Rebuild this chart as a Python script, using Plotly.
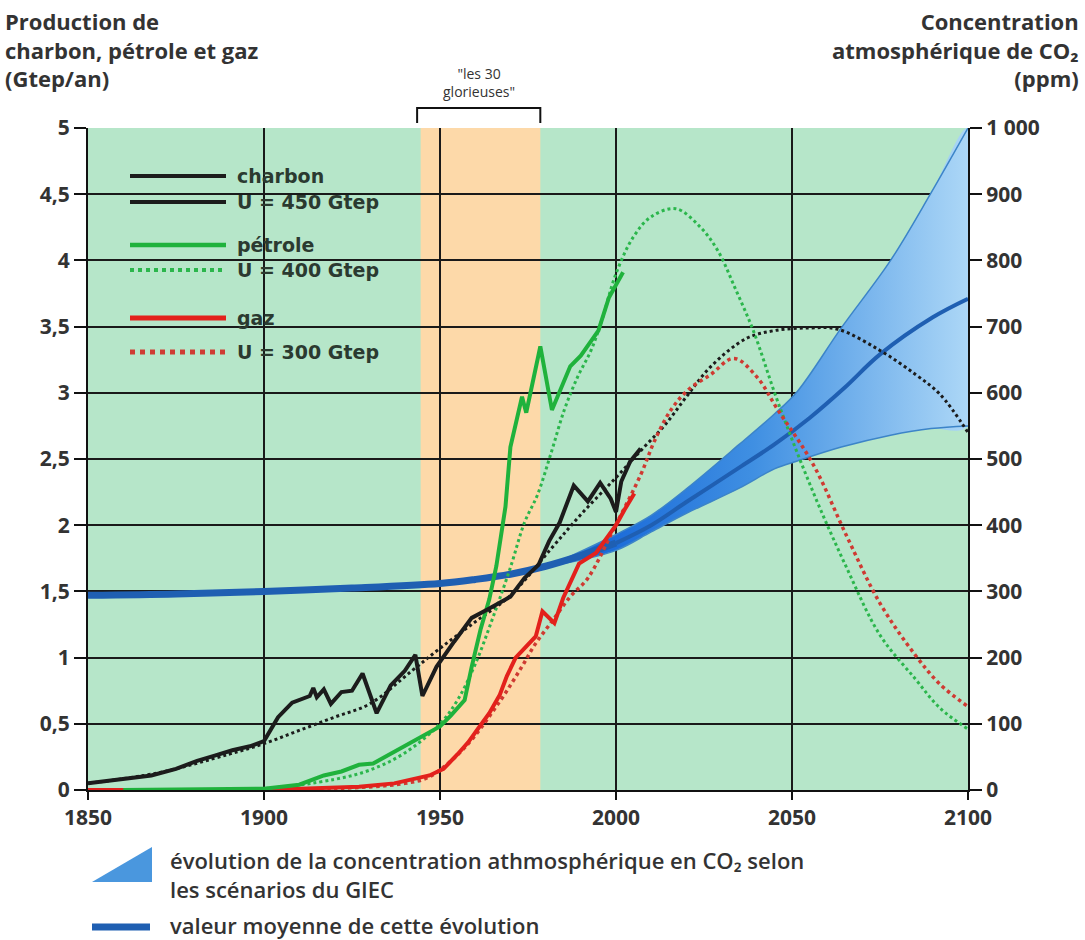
import plotly.graph_objects as go

# ---------------- data ----------------
coal_years = [1850, 1860, 1868, 1875, 1881, 1886, 1891, 1896, 1900, 1904, 1908, 1913, 1914, 1915,
              1917, 1919, 1922, 1925, 1928, 1932, 1936, 1940, 1943, 1945, 1949, 1954, 1959, 1964,
              1970, 1974, 1978, 1981, 1984, 1988, 1992, 1995.5, 1998.5, 2000, 2001.5, 2004, 2007]
coal_values = [0.05, 0.08, 0.11, 0.16, 0.22, 0.26, 0.30, 0.33, 0.37, 0.55, 0.66, 0.71, 0.77, 0.70,
               0.76, 0.65, 0.74, 0.75, 0.88, 0.58, 0.79, 0.90, 1.02, 0.71, 0.93, 1.12, 1.30, 1.37,
               1.46, 1.60, 1.70, 1.88, 2.02, 2.30, 2.18, 2.32, 2.20, 2.10, 2.33, 2.48, 2.58]

oil_years = [1860, 1880, 1900, 1910, 1917, 1922, 1927, 1931, 1935, 1938, 1942, 1946, 1950, 1953,
             1957, 1959, 1961.5, 1964, 1966, 1968.6, 1970, 1973.3, 1974.5, 1978.5, 1981.8, 1987,
             1990, 1995, 1998, 2002]
oil_values = [0.0, 0.005, 0.01, 0.04, 0.11, 0.14, 0.19, 0.20, 0.26, 0.30, 0.36, 0.42, 0.48, 0.56,
              0.68, 0.93, 1.21, 1.44, 1.69, 2.14, 2.59, 2.97, 2.85, 3.35, 2.87, 3.20, 3.28, 3.47, 3.72, 3.91]

gas_years = [1850, 1900, 1927, 1937, 1947, 1951, 1955, 1958, 1961, 1964, 1967, 1969, 1971.5,
             1975, 1977.2, 1979.1, 1982.5, 1985, 1989.5, 1994.3, 2000, 2002.5, 2005.2]
gas_values = [0.0, 0.0, 0.025, 0.05, 0.11, 0.16, 0.27, 0.36, 0.47, 0.58, 0.72, 0.86, 1.0,
              1.1, 1.16, 1.35, 1.26, 1.45, 1.71, 1.79, 2.0, 2.12, 2.24]

coal_model_years = [1850, 1870, 1890, 1900, 1910, 1920, 1930, 1942, 1950, 1960, 1970, 1981.5,
                    1990, 2000, 2008, 2014, 2020, 2027, 2037, 2045, 2055, 2063, 2075, 2085, 2092, 2100]
coal_model_values = [0.05, 0.13, 0.27, 0.35, 0.45, 0.55, 0.65, 0.90, 1.07, 1.27, 1.47, 1.82,
                     2.08, 2.36, 2.59, 2.76, 2.97, 3.20, 3.41, 3.47, 3.49, 3.48, 3.32, 3.14, 2.99, 2.70]

oil_model_years = [1880, 1900, 1920, 1930, 1940, 1950, 1955, 1960, 1965, 1970, 1974, 1977.7,
                   1981.5, 1985.3, 1989.1, 1992.9, 1996, 2000, 2005, 2010, 2017, 2024, 2029,
                   2034, 2039, 2046, 2056, 2065.5, 2075, 2085, 2092, 2100]
oil_model_values = [0.0, 0.01, 0.08, 0.15, 0.28, 0.50, 0.68, 0.95, 1.30, 1.68, 2.02, 2.23,
                    2.54, 2.87, 3.12, 3.32, 3.55, 3.90, 4.18, 4.33, 4.39, 4.25, 4.07,
                    3.78, 3.47, 2.93, 2.25, 1.68, 1.17, 0.84, 0.62, 0.46]

gas_model_years = [1900, 1920, 1940, 1947, 1957, 1967, 1973, 1977, 1982, 1987, 1992, 1999.5,
                   2007, 2011, 2015.6, 2020.4, 2027, 2033.5, 2040, 2046, 2056, 2065.5, 2075,
                   2085, 2092, 2100]
gas_model_values = [0.0, 0.01, 0.05, 0.10, 0.32, 0.67, 0.92, 1.10, 1.28, 1.46, 1.60, 1.98,
                    2.38, 2.64, 2.87, 3.02, 3.14, 3.26, 3.12, 2.87, 2.46, 1.92, 1.41,
                    1.02, 0.80, 0.63]

co2_years = [1850, 1875, 1900, 1925, 1950, 1960, 1970, 1980, 1990, 2000, 2010, 2020, 2035,
             2045, 2055, 2065, 2075, 2090, 2100]
co2_mean = [294, 296, 300, 305, 312, 318, 326, 338, 354, 373, 400, 435, 487,
            522, 562, 608, 658, 714, 742]

band_years = [1985, 2000, 2010, 2020, 2035, 2045, 2051.5, 2064, 2078, 2089.5, 2100]
band_upper = [348, 386, 415, 455, 522, 568, 602, 698, 800, 902, 1000]
band_lower = [342, 362, 390, 418, 456, 485, 497, 518, 536, 546, 550]

x_ticks = [1850, 1900, 1950, 2000, 2050, 2100]
y_ticks = [0, 0.5, 1, 1.5, 2, 2.5, 3, 3.5, 4, 4.5, 5]
y_ticktext = ["0", "0,5", "1", "1,5", "2", "2,5", "3", "3,5", "4", "4,5", "5"]
ppm_ticks = [0, 100, 200, 300, 400, 500, 600, 700, 800, 900, 1000]
ppm_ticktext = ["0", "100", "200", "300", "400", "500", "600", "700", "800", "900", "1 000"]

glorieuses_start, glorieuses_end = 1944.5, 1978.5

# ---------------- styles ----------------
C_COAL = "#1c1c1c"
C_OIL = "#1fb23c"
C_GAS = "#e3211c"
C_OIL_DOT = "#2bb64c"
C_GAS_DOT = "#cf3a32"
C_MEAN = "#1f5fb2"
C_EDGE = "#3c84c8"
BG = "#b6e6c9"
ORANGE = "#fdd9a9"
TXT = "#333333"
FONT = "Open Sans"
LEG_FONT = "DejaVu Sans"

fig = go.Figure()

# CO2 (primary y axis = ppm, right side) -> drawn below production traces
fig.add_trace(go.Scatter(
    x=band_years + band_years[::-1], y=band_upper + band_lower[::-1],
    yaxis="y", mode="lines", line=dict(width=0, shape="spline"), fill="toself",
    fillgradient=dict(type="horizontal",
                      colorscale=[[0, "#1060d6"], [0.45, "#3f8fe2"], [1, "#b4dcf8"]]),
    hoverinfo="skip", showlegend=False))
fig.add_trace(go.Scatter(x=band_years, y=band_upper, yaxis="y", mode="lines",
                         line=dict(color=C_EDGE, width=1.5, shape="spline"), showlegend=False))
fig.add_trace(go.Scatter(x=band_years, y=band_lower, yaxis="y", mode="lines",
                         line=dict(color=C_EDGE, width=1.5, shape="spline"), showlegend=False))
split = co2_years.index(2000)
fig.add_trace(go.Scatter(x=co2_years[:split + 1], y=co2_mean[:split + 1], yaxis="y", mode="lines",
                         line=dict(color=C_MEAN, width=7, shape="spline"), showlegend=False))
fig.add_trace(go.Scatter(x=co2_years[split:], y=co2_mean[split:], yaxis="y", mode="lines",
                         line=dict(color=C_MEAN, width=4, shape="spline"), showlegend=False))

# models (dotted) on Gtep axis (y2, left)
fig.add_trace(go.Scatter(x=coal_model_years, y=coal_model_values, yaxis="y2", mode="lines",
                         line=dict(color=C_COAL, width=3, dash="dot", shape="spline"), showlegend=False))
fig.add_trace(go.Scatter(x=oil_model_years, y=oil_model_values, yaxis="y2", mode="lines",
                         line=dict(color=C_OIL_DOT, width=3, dash="dot", shape="spline"), showlegend=False))
fig.add_trace(go.Scatter(x=gas_model_years, y=gas_model_values, yaxis="y2", mode="lines",
                         line=dict(color=C_GAS_DOT, width=3.5, dash="dot", shape="spline"), showlegend=False))

# production data (solid)
fig.add_trace(go.Scatter(x=gas_years, y=gas_values, yaxis="y2", mode="lines",
                         line=dict(color=C_GAS, width=4), showlegend=False))
fig.add_trace(go.Scatter(x=oil_years, y=oil_values, yaxis="y2", mode="lines",
                         line=dict(color=C_OIL, width=4), showlegend=False))
fig.add_trace(go.Scatter(x=coal_years, y=coal_values, yaxis="y2", mode="lines",
                         line=dict(color=C_COAL, width=4), showlegend=False))

# ---------------- geometry helpers (pixels -> paper) ----------------
W, H = 1085, 940
L, R, T, B = 88, 968, 128, 790


def px(xp):
    return (xp - L) / (R - L)


def py(yp):
    return (B - yp) / (B - T)


shapes = []
shapes.append(dict(type="rect", xref="x", yref="paper", x0=glorieuses_start, x1=glorieuses_end,
                   y0=0, y1=1, fillcolor=ORANGE, line=dict(width=0), layer="below"))
shapes.append(dict(type="path", xref="x", yref="paper",
                   path=f"M {glorieuses_start - 1},{py(123)} L {glorieuses_start - 1},{py(108)} "
                        f"L {glorieuses_end},{py(108)} L {glorieuses_end},{py(123)}",
                   line=dict(color="#111", width=2)))

legend_rows = [
    ("charbon", 176, C_COAL, "solid", 4),
    ("U = 450 Gtep", 202, C_COAL, "solid", 4),
    ("pétrole", 245, C_OIL, "solid", 4.5),
    ("U = 400 Gtep", 270, C_OIL_DOT, "dot", 4),
    ("gaz", 318, C_GAS, "solid", 5),
    ("U = 300 Gtep", 352, C_GAS_DOT, "dot", 5),
]
annotations = []
for label, yrow, col, dash, w in legend_rows:
    shapes.append(dict(type="line", xref="paper", yref="paper", x0=px(130), x1=px(226),
                       y0=py(yrow), y1=py(yrow), line=dict(color=col, width=w, dash=dash)))
    annotations.append(dict(xref="paper", yref="paper", x=px(235), y=py(yrow), xanchor="left",
                            yanchor="middle", showarrow=False, text=label,
                            font=dict(family=LEG_FONT, size=19, color="#2b3a30", weight=700)))

# bottom legend
shapes.append(dict(type="path", xref="paper", yref="paper",
                   path=f"M {px(152)},{py(847)} L {px(152)},{py(882)} L {px(92)},{py(882)} Z",
                   fillcolor="#4a97de", line=dict(width=0)))
shapes.append(dict(type="line", xref="paper", yref="paper", x0=px(92), x1=px(150),
                   y0=py(927), y1=py(927), line=dict(color=C_MEAN, width=7)))
annotations.append(dict(xref="paper", yref="paper", x=px(168), y=py(874), xanchor="left",
                        yanchor="middle", align="left", showarrow=False,
                        text="évolution de la concentration athmosphérique en CO₂ selon"
                             "<br>les scénarios du GIEC",
                        font=dict(family=FONT, size=22, color=TXT, weight=600)))
annotations.append(dict(xref="paper", yref="paper", x=px(168), y=py(925), xanchor="left",
                        yanchor="middle", showarrow=False, text="valeur moyenne de cette évolution",
                        font=dict(family=FONT, size=22, color=TXT, weight=600)))

# axis titles
annotations.append(dict(xref="paper", yref="paper", x=px(3), y=py(50), xanchor="left",
                        yanchor="middle", align="left", showarrow=False,
                        text="Production de<br>charbon, pétrole et gaz<br>(Gtep/an)",
                        font=dict(family=FONT, size=22, color=TXT, weight=700)))
annotations.append(dict(xref="paper", yref="paper", x=px(1081), y=py(50), xanchor="right",
                        yanchor="middle", align="right", showarrow=False,
                        text="Concentration<br>atmosphérique de CO₂<br>(ppm)",
                        font=dict(family=FONT, size=22, color=TXT, weight=700)))
annotations.append(dict(xref="x", yref="paper", x=(glorieuses_start + glorieuses_end) / 2 - 0.5,
                        y=py(82), xanchor="center", yanchor="middle", showarrow=False,
                        text="\"les 30<br>glorieuses\"",
                        font=dict(family=FONT, size=14, color=TXT)))

tickfont = dict(family=FONT, size=21, color=TXT, weight=700)
fig.update_layout(
    width=W, height=H,
    margin=dict(l=L, r=W - R, t=T, b=H - B, pad=0),
    paper_bgcolor="white", plot_bgcolor=BG,
    showlegend=False,
    shapes=shapes, annotations=annotations,
    xaxis=dict(range=[1850, 2100], tickvals=x_ticks, ticktext=[str(v) for v in x_ticks],
               showgrid=True, gridcolor="#1a1a1a", gridwidth=1.6, zeroline=False,
               showline=True, linecolor="#111", linewidth=2, ticks="outside", ticklen=8,
               tickcolor="#111", tickwidth=2, tickfont=tickfont),
    yaxis=dict(range=[0, 1000], tickvals=ppm_ticks, ticktext=ppm_ticktext, side="right",
               showgrid=True, gridcolor="#1a1a1a", gridwidth=1.6, zeroline=False,
               showline=True, linecolor="#111", linewidth=2, ticks="outside", ticklen=12,
               tickcolor="#111", tickwidth=2, tickfont=tickfont),
    yaxis2=dict(range=[0, 5], tickvals=y_ticks, ticktext=y_ticktext, overlaying="y",
                side="left", showgrid=False, zeroline=False, showline=True, linecolor="#111",
                linewidth=2, ticks="outside", ticklen=12, tickcolor="#111", tickwidth=2,
                tickfont=tickfont),
)

fig.write_html("out.html", config={"displayModeBar": False},
               post_script="document.body.style.margin='0';")
